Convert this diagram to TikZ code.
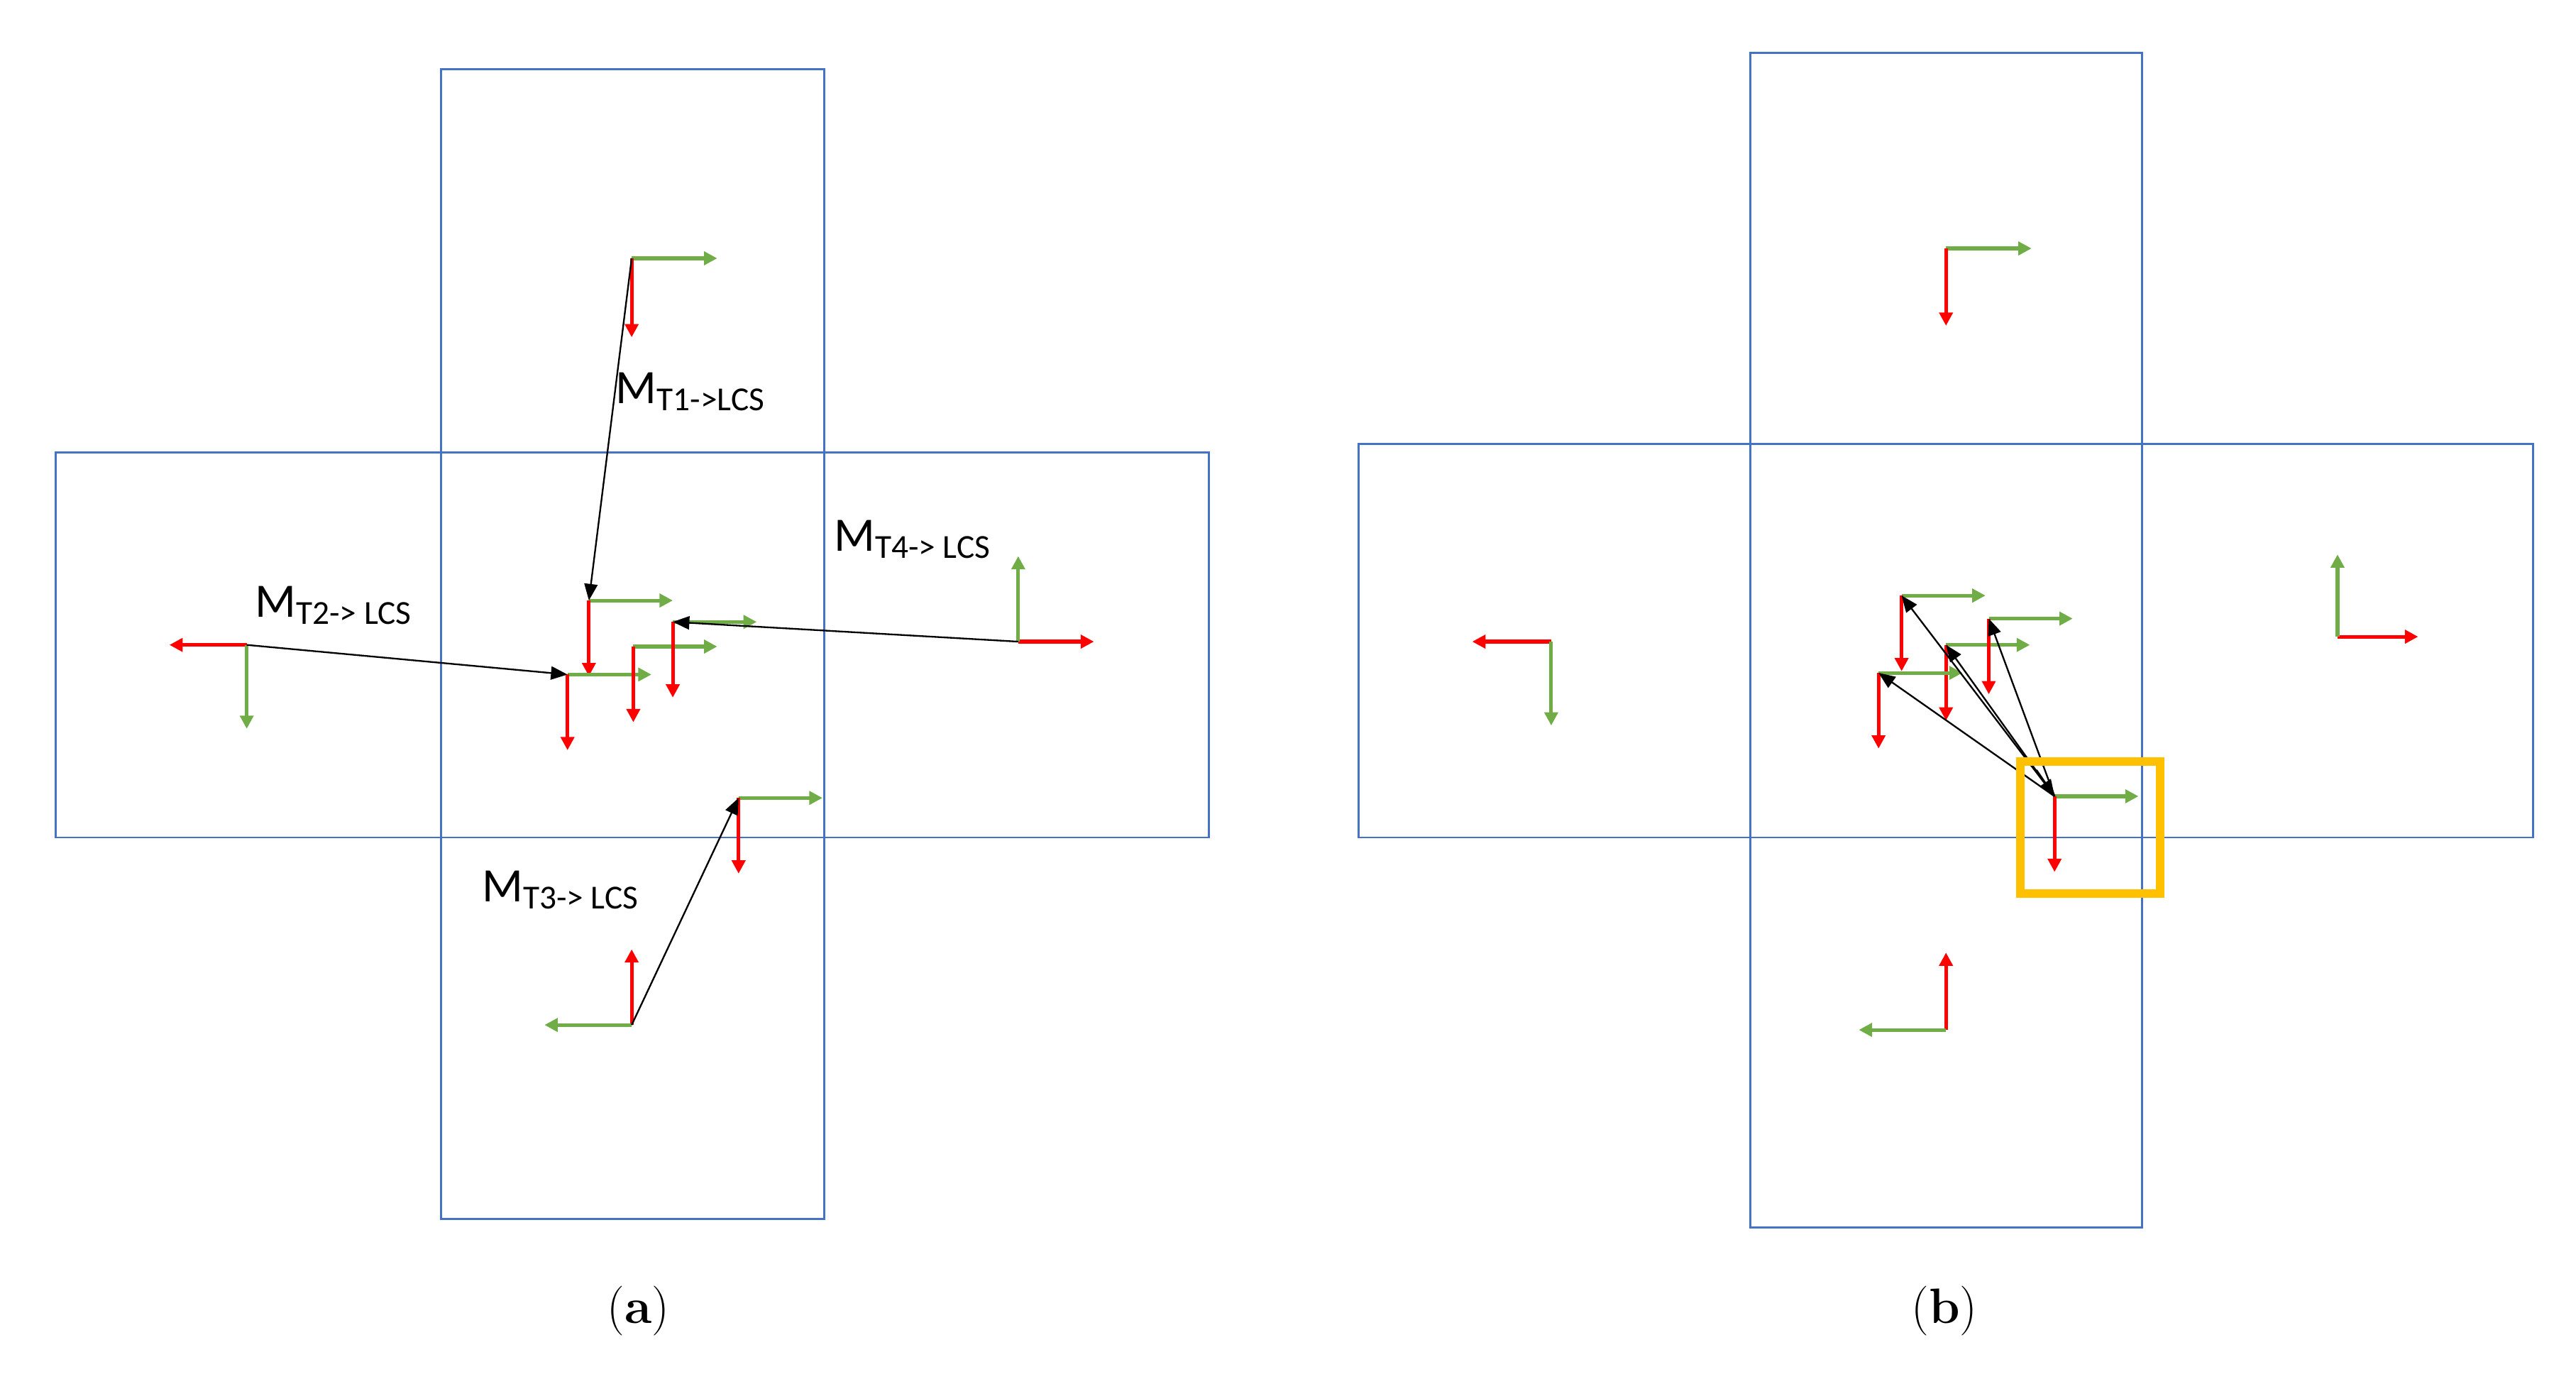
\documentclass[tikz,border=0pt]{standalone}
\usepackage{fontspec}
\newfontfamily\calfont{Carlito}
\usetikzlibrary{arrows.meta}
\definecolor{bl}{HTML}{4472C4}
\definecolor{gr}{HTML}{70AD47}
\definecolor{rd}{HTML}{FF0000}
\definecolor{og}{HTML}{FFC000}
\tikzset{
 box/.style={draw=bl,line width=0.6pt},
 ga/.style={draw=gr,line width=1.1pt,-{Triangle[length=4pt,width=4pt]}},
 ra/.style={draw=rd,line width=1.1pt,-{Triangle[length=4pt,width=4pt]}},
 ka/.style={draw=black,line width=0.5pt,-{Triangle[length=5pt,width=4pt]}},
 lab/.style={font=\calfont\fontsize{14.5}{14.5}\selectfont,inner sep=0pt},
 capt/.style={font=\fontsize{15}{15}\selectfont}
}
\begin{document}
\begin{tikzpicture}[x=0.497pt,y=-0.497pt]
\useasboundingbox (0,0) rectangle (1566,837.8);
% (a)
\draw[box] (268,42) rectangle (501,741);
\draw[box] (34,275) rectangle (735,509);
\coordinate (a1) at (384,157); \coordinate (a2) at (150,392);
\coordinate (a3) at (384,623); \coordinate (a4) at (619,390);
\coordinate (c1) at (358,365); \coordinate (c2) at (345,410);
\coordinate (c3) at (385,393); \coordinate (c4) at (409,378);
\coordinate (c5) at (449,485);
\draw[ga] (a1) -- ++(52,0); \draw[ra] (a1) -- ++(0,48);
\draw[ra] (a2) -- ++(-47,0); \draw[ga] (a2) -- ++(0,51);
\draw[ra] (a3) -- ++(0,-46); \draw[ga] (a3) -- ++(-53,0);
\draw[ra] (a4) -- ++(46,0); \draw[ga] (a4) -- ++(0,-52);
\foreach \c in {c1,c2,c3,c4,c5}{\draw[ga] (\c) -- ++(51,0); \draw[ra] (\c) -- ++(0,46);}
\draw[ka] (a1) -- (c1);
\draw[ka] (a2) -- (c2);
\draw[ka] (a4) -- (c4);
\draw[ka] (a3) -- (c5);
\node[lab] (l1) at (420,238) {M\textsubscript{T1->LCS}};
\node[lab] (l2) at (203,368) {M\textsubscript{T2-> LCS}};
\node[lab] (l4) at (555,328) {M\textsubscript{T4-> LCS}};
\node[lab] (l3) at (341,541) {M\textsubscript{T3-> LCS}};
\node[capt] (ca) at (388,797) {(\textbf{a})};
% (b)
\draw[box] (1064,32) rectangle (1302,746);
\draw[box] (826,270) rectangle (1540,509);
\coordinate (b1) at (1183,151); \coordinate (b2) at (943,390);
\coordinate (b3) at (1183,626); \coordinate (b4) at (1421,387);
\coordinate (d1) at (1156,362); \coordinate (d2) at (1183,392);
\coordinate (d3) at (1209,376); \coordinate (d4) at (1142,409);
\coordinate (d5) at (1249,484);
\coordinate (d0) at (1238,468);
\draw[ga] (b1) -- ++(52,0); \draw[ra] (b1) -- ++(0,47);
\draw[ra] (b2) -- ++(-48,0); \draw[ga] (b2) -- ++(0,51);
\draw[ra] (b3) -- ++(0,-47); \draw[ga] (b3) -- ++(-53,0);
\draw[ra] (b4) -- ++(49,0); \draw[ga] (b4) -- ++(0,-50);
\foreach \c in {d1,d2,d3,d4,d5}{\draw[ga] (\c) -- ++(51,0); \draw[ra] (\c) -- ++(0,46);}
\foreach \c in {d1,d2,d3,d4}{\draw[ka] (d5) -- (\c);}
\draw[ka] (d0) -- (d5);
\draw[draw=og,line width=2.6pt] (1228,463) rectangle (1313,543);
\node[capt] (cb) at (1182,797) {(\textbf{b})};
\end{tikzpicture}
\end{document}
